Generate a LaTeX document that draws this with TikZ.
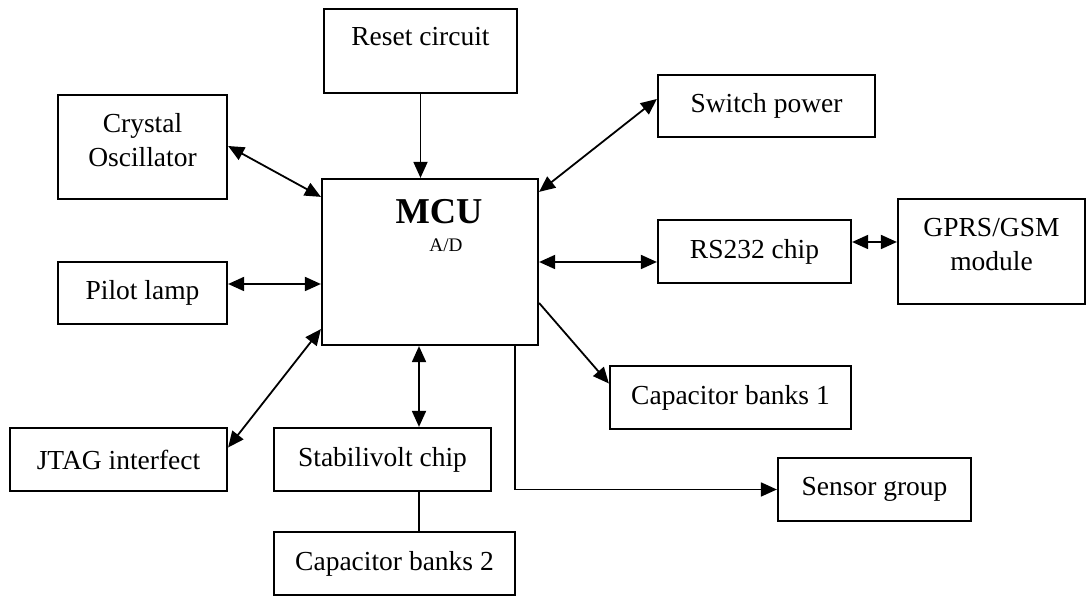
\documentclass[tikz,border=0pt]{standalone}
\usepackage{fontspec}
\setmainfont{Liberation Serif}
\usetikzlibrary{arrows.meta, positioning, calc}

\begin{document}
\begin{tikzpicture}[x=0.5pt, y=-0.5pt,
  block/.style={draw, line width=1.1pt, inner sep=0pt, align=center,
                font=\fontsize{13.75pt}{17pt}\selectfont},
  arrow/.style={-{Triangle[length=8pt, width=7pt]}, line width=0.9pt},
  biarrow/.style={{Triangle[length=8pt, width=7pt]}-{Triangle[length=8pt, width=7pt]}, line width=0.9pt}]

  \useasboundingbox (0,0) rectangle (1086,597);

  % centre block
  \node[block, minimum width=108pt, minimum height=83pt] (mcu) at (430,262) {};
  \node[font=\fontsize{18.2pt}{20pt}\selectfont\bfseries] (mcutitle) at (439,212) {MCU};
  \node[font=\fontsize{9.6pt}{11pt}\selectfont] (mcuad) at (446,245) {A/D};

  % left column
  \node[block, minimum width=96.5pt, minimum height=42pt] (reset)   at (420.5,51)  {Reset circuit\\[-2pt]~};
  \node[block, minimum width=84.5pt, minimum height=52pt] (crystal) at (142.5,147) {Crystal\\Oscillator\\[-10pt]~};
  \node[block, minimum width=84.5pt, minimum height=31pt] (pilot)   at (142.5,293) {Pilot lamp};
  \node[block, minimum width=108.5pt, minimum height=31.5pt] (jtag)  at (118.5,459.5) {JTAG interfect};
  \node[block, minimum width=108.5pt, minimum height=31.5pt] (stab)  at (382.5,459.5) {Stabilivolt chip};
  \node[block, minimum width=120.5pt, minimum height=31.5pt] (capb2) at (394.5,563.5) {Capacitor banks 2};

  % right column
  \node[block, minimum width=108.5pt, minimum height=31pt] (switch) at (766.5,106)  {Switch power};
  \node[block, minimum width=96.5pt, minimum height=31.5pt] (rs232) at (754.5,251.5) {RS232 chip};
  \node[block, minimum width=93.5pt, minimum height=52.5pt] (gprs)  at (991.5,251.5) {GPRS/GSM\\module\\[-10pt]~};
  \node[block, minimum width=120.5pt, minimum height=31.5pt] (capb1) at (730.5,397.5) {Capacitor banks 1};
  \node[block, minimum width=96.5pt, minimum height=31.5pt] (sensor) at (874.5,489.5) {Sensor group};

  % connectors
  \draw[arrow] (reset.south) -- (reset.south |- mcu.north);
  \draw[biarrow] ($(crystal.east)+(0,-1)$) -- ($(mcu.north west)+(0,19)$);
  \draw[biarrow] ($(pilot.east)+(0,-9)$) coordinate (pl) -- (pl -| mcu.west);
  \draw[biarrow] ($(jtag.east)+(0,-12)$) -- ($(mcu.south west)+(0,-17)$);
  \draw[biarrow] ($(mcu.north east)+(0,14)$) -- ($(switch.west)+(0,-7)$);
  \draw[biarrow] (mcu.east) -- (mcu.east -| rs232.west);
  \draw[biarrow] ($(rs232.east)+(0,-9.5)$) coordinate (rg) -- (rg -| gprs.west);
  \draw[arrow] ($(mcu.east)+(0,41)$) -- ($(capb1.west)+(0,-14)$);
  \draw[arrow] ($(mcu.south east)+(-24,0)$) |- (sensor.west);
  \draw[biarrow] ($(mcu.south)+(-11,0)$) coordinate (ms) -- (ms |- stab.north);
  \draw[line width=0.9pt] (ms |- stab.south) -- (ms |- capb2.north);
\end{tikzpicture}
\end{document}
